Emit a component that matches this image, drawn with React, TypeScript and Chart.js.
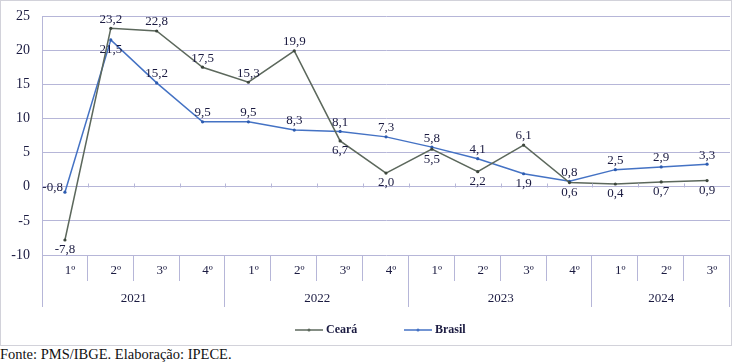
import React, { useEffect, useRef } from "react";
import { Chart, registerables } from "chart.js";

Chart.register(...registerables);

const quarterLabels = ["1º", "2º", "3º", "4º", "1º", "2º", "3º", "4º", "1º", "2º", "3º", "4º", "1º", "2º", "3º"];
const yearLabels = ["2021", "2022", "2023", "2024"];
const yearSpans = [4, 4, 4, 3];
const cearaValues = [-7.8, 23.2, 22.8, 17.5, 15.3, 19.9, 6.7, 2.0, 5.5, 2.2, 6.1, 0.6, 0.4, 0.7, 0.9];
const brasilValues = [-0.8, 21.5, 15.2, 9.5, 9.5, 8.3, 8.1, 7.3, 5.8, 4.1, 1.9, 0.8, 2.5, 2.9, 3.3];
// label placement: a = above, b = below, l = left
const cearaLabelPos = ["b", "a", "a", "a", "a", "a", "b", "b", "b", "b", "a", "b", "b", "b", "b"];
const brasilLabelPos = ["l", "b", "a", "a", "a", "a", "a", "a", "a", "a", "b", "a", "a", "a", "a"];
const seriesNames = ["Ceará", "Brasil"];
const yMin = -10;
const yMax = 25;
const yStep = 5;
const sourceText = "Fonte: PMS/IBGE. Elaboração: IPECE.";

const SERIF = "'Liberation Serif', 'Times New Roman', serif";
const TEXT = "#1a1a40";
const GRID = "#b6b6d8";
const CEARA = "#5c685c";
const BRASIL = "#4472c4";

const fmt = (v: number) => v.toFixed(1).replace(".", ",");

const customPlugin = {
  id: "customDecor",
  beforeDraw(chart: any) {
    const ctx = chart.ctx;
    ctx.save();
    ctx.fillStyle = "#ffffff";
    ctx.fillRect(0, 0, chart.width, chart.height);
    ctx.restore();
  },
  afterDraw(chart: any) {
    const ctx = chart.ctx;
    const xs = chart.scales.x;
    const ys = chart.scales.y;
    const { left, right, bottom } = chart.chartArea;
    const n = quarterLabels.length;
    const half = (xs.getPixelForValue(1) - xs.getPixelForValue(0)) / 2;
    const boundary = (i: number) => (i === 0 ? left : i === n ? right : xs.getPixelForValue(i) - half);
    ctx.save();
    // frame
    ctx.strokeStyle = "#d2d2da";
    ctx.lineWidth = 1;
    ctx.strokeRect(0.5, 0.5, 731, 345);
    // zero-line tick marks
    const y0 = Math.round(ys.getPixelForValue(0)) + 0.5;
    ctx.strokeStyle = GRID;
    ctx.beginPath();
    for (let i = 1; i < n; i++) {
      const bx = Math.round(boundary(i)) + 0.5;
      ctx.moveTo(bx, y0 - 4);
      ctx.lineTo(bx, y0);
    }
    ctx.stroke();
    // category table lines
    const yearStarts: number[] = [0];
    yearSpans.forEach((s, k) => yearStarts.push(yearStarts[k] + s));
    ctx.beginPath();
    for (let i = 0; i <= n; i++) {
      const bx = Math.round(boundary(i)) - 0.5 + (i === 0 ? 1 : 0);
      const isYear = yearStarts.indexOf(i) >= 0;
      ctx.moveTo(bx, bottom);
      ctx.lineTo(bx, bottom + (isYear ? 52 : 26));
    }
    ctx.stroke();
    // quarter labels
    ctx.fillStyle = TEXT;
    ctx.font = `13px ${SERIF}`;
    ctx.textAlign = "center";
    ctx.textBaseline = "middle";
    quarterLabels.forEach((q, i) => {
      ctx.fillText(q, xs.getPixelForValue(i) + 5, bottom + 16);
    });
    // year labels
    yearLabels.forEach((yl, k) => {
      const x1 = boundary(yearStarts[k]);
      const x2 = boundary(yearStarts[k + 1]);
      ctx.fillText(yl, (x1 + x2) / 2, bottom + 44);
    });
    // data labels
    const posSets = [cearaLabelPos, brasilLabelPos];
    chart.data.datasets.forEach((ds: any, d: number) => {
      const meta = chart.getDatasetMeta(d);
      meta.data.forEach((pt: any, i: number) => {
        const v = ds.data[i];
        const p = posSets[d][i];
        const t = fmt(v);
        if (p === "a") {
          ctx.textAlign = "center";
          ctx.fillText(t, pt.x, pt.y - 9);
        } else if (p === "b") {
          ctx.textAlign = "center";
          ctx.fillText(t, pt.x, pt.y + 10);
        } else {
          ctx.textAlign = "right";
          ctx.fillText(t, pt.x - 2, pt.y - 5);
        }
      });
    });
    // legend
    const legendY = 330;
    const legendX = [295, 404];
    ctx.font = `bold 12px ${SERIF}`;
    ctx.textAlign = "left";
    chart.data.datasets.forEach((ds: any, d: number) => {
      const lx = legendX[d];
      ctx.strokeStyle = ds.borderColor;
      ctx.lineWidth = 1.5;
      ctx.beginPath();
      ctx.moveTo(lx, legendY);
      ctx.lineTo(lx + 28, legendY);
      ctx.stroke();
      ctx.fillStyle = ds.borderColor;
      ctx.beginPath();
      ctx.arc(lx + 14, legendY, 1.5, 0, Math.PI * 2);
      ctx.fill();
      ctx.fillStyle = TEXT;
      ctx.fillText(ds.label, lx + 31, legendY);
    });
    ctx.restore();
  },
};

export default function App() {
  const ref = useRef<HTMLCanvasElement | null>(null);
  useEffect(() => {
    document.body.style.margin = "0";
    const canvas = ref.current;
    if (!canvas) return;
    const chart = new Chart(canvas, {
      type: "line",
      data: {
        labels: quarterLabels,
        datasets: [
          {
            label: seriesNames[0],
            data: cearaValues,
            borderColor: CEARA,
            backgroundColor: CEARA,
            borderWidth: 1.5,
            pointRadius: 1.6,
            pointBorderWidth: 0,
            pointBackgroundColor: "#3c463c",
            tension: 0,
          },
          {
            label: seriesNames[1],
            data: brasilValues,
            borderColor: BRASIL,
            backgroundColor: BRASIL,
            borderWidth: 1.5,
            pointRadius: 1.6,
            pointBorderWidth: 0,
            pointBackgroundColor: "#2d5cb0",
            tension: 0,
          },
        ],
      },
      options: {
        responsive: false,
        animation: false,
        devicePixelRatio: 1,
        layout: { padding: { left: 0, top: 16, right: 0, bottom: 91 } },
        plugins: {
          legend: { display: false },
          tooltip: { enabled: false },
          title: { display: false },
        },
        scales: {
          x: {
            type: "category",
            display: false,
            offset: true,
          },
          y: {
            min: yMin,
            max: yMax,
            afterFit: (scale: any) => {
              scale.width = 42;
              scale.paddingTop = 0;
              scale.paddingBottom = 0;
              scale.paddingLeft = 0;
              scale.paddingRight = 0;
            },
            ticks: {
              stepSize: yStep,
              padding: 12,
              color: TEXT,
              font: { family: SERIF, size: 14 },
            },
            grid: { color: GRID, drawTicks: false, lineWidth: 1 },
            border: { display: true, color: GRID },
          },
        },
      },
      plugins: [customPlugin],
    });
    return () => chart.destroy();
  }, []);
  return (
    <div style={{ position: "absolute", left: 0, top: 0, width: 734, height: 362, background: "#fff" }}>
      <canvas ref={ref} width={734} height={346} style={{ display: "block", width: 734, height: 346 }} />
      <div
        style={{
          position: "absolute",
          left: 0,
          top: 347,
          fontFamily: SERIF,
          fontSize: 14.5,
          lineHeight: "15px",
          color: "#111",
          whiteSpace: "nowrap",
        }}
      >
        {sourceText}
      </div>
    </div>
  );
}
